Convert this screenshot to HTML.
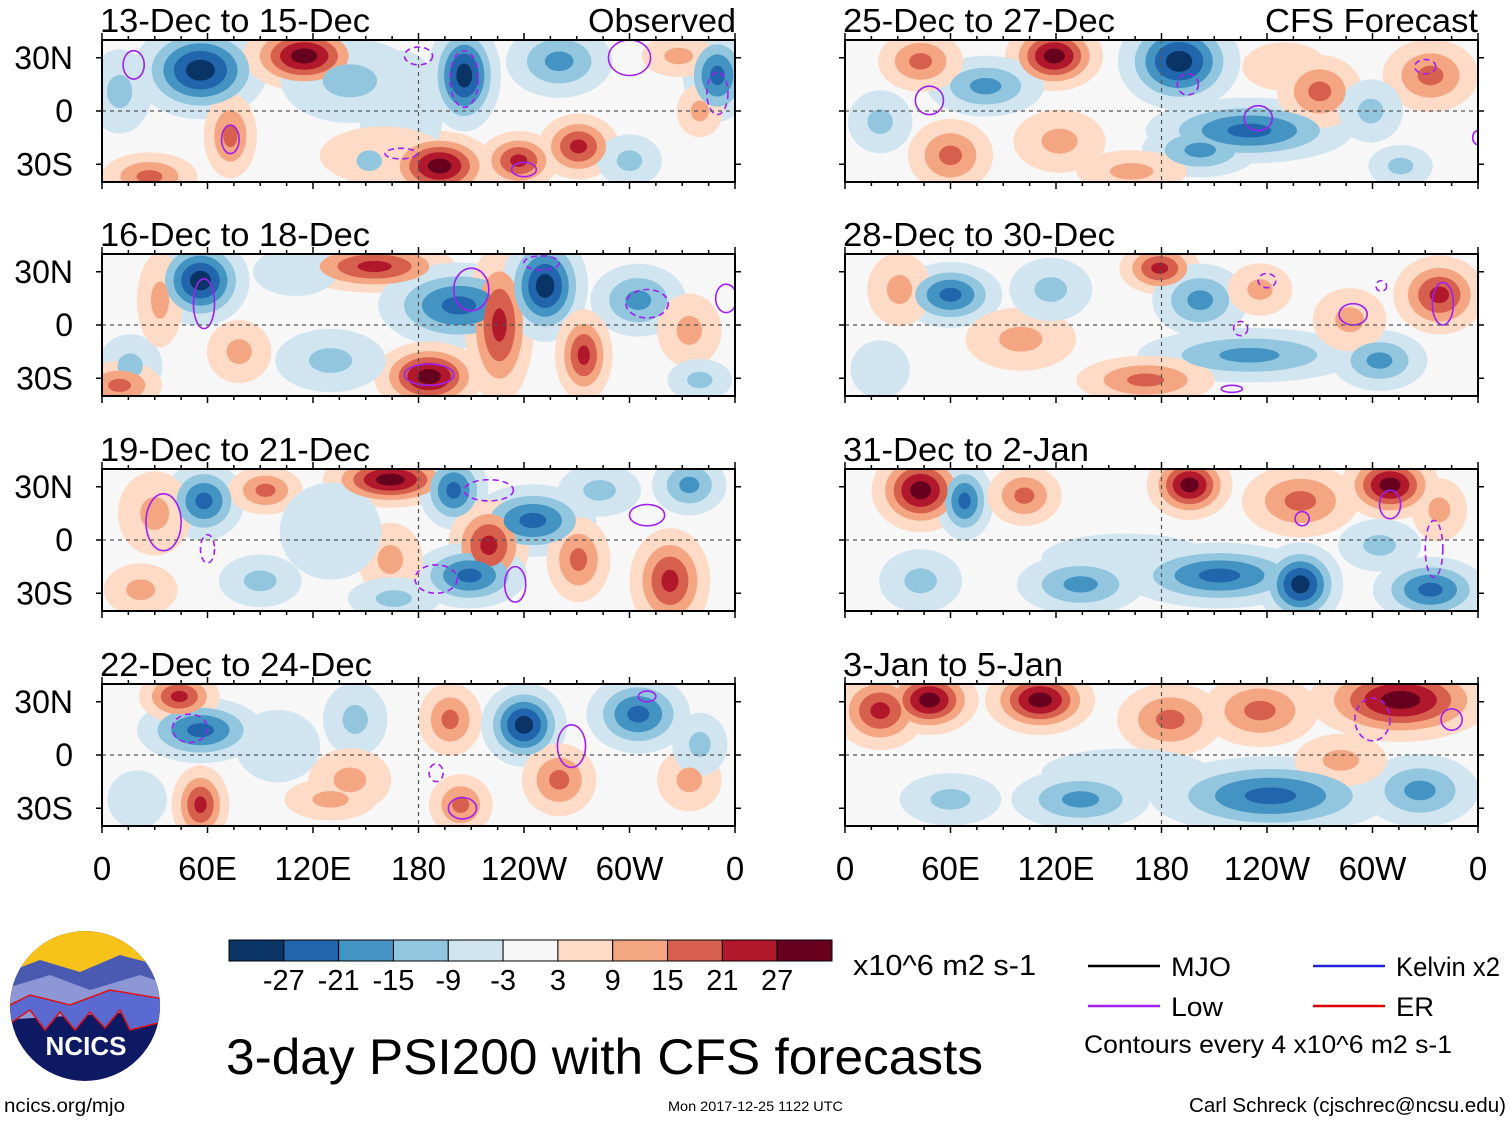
<!DOCTYPE html>
<html><head><meta charset="utf-8">
<style>
body{margin:0;background:#fff;width:1510px;height:1121px;overflow:hidden;font-family:"Liberation Sans",sans-serif}
svg{position:absolute;left:0;top:0}
</style></head>
<body>
<svg id="chart" width="1510" height="1121" font-family="Liberation Sans, sans-serif"></svg>
<script>
const levels=[3,9,15,21,27];
const posColors=['#fddbc7','#f4a582','#d6604d','#b2182b','#67001f'];
const negColors=['#d1e5f0','#92c5de','#4393c3','#2166ac','#0a3366'];
const cbColors=['#0a3366','#2166ac','#4393c3','#92c5de','#d1e5f0','#f7f7f7','#fddbc7','#f4a582','#d6604d','#b2182b','#67001f'];
const cbLabels=['-27','-21','-15','-9','-3','3','9','15','21','27'];
const xTickLabels=['0','60E','120E','180','120W','60W','0'];
const yTickLabels=['30N','0','30S'];
const yTickLats=[30,0,-30];
const panelTitles=['13-Dec to 15-Dec','16-Dec to 18-Dec','19-Dec to 21-Dec','22-Dec to 24-Dec','25-Dec to 27-Dec','28-Dec to 30-Dec','31-Dec to 2-Jan','3-Jan to 5-Jan'];
const titleWidths=[270,270,270,272,272,272,246,220];
// blobs: [lon, lat, amplitude, lonHalfWidth, latHalfWidth]
const blobs1=[[56,23,-30,22,14],[115,31,30,20,10],[206,20,-30,12,16],[260,28,-17,20,12],[192,-31,30,18,10],[237,-28,23,14,9],[271,-20,23,14,10],[10,11,-11,14,16],[73,-14,17,10,14],[350,20,-23,12,14],[141,17,-11,30,16],[340,0,11,10,10],[27,-37,17,18,8],[300,-28,-11,14,10],[328,31,11,16,8],[152,-28,-11,14,10],[170,0,-9,20,25],[160,-25,9,30,12]];
const blobs2=[[56,25,-30,16,13],[155,33,23,28,8],[203,11,-23,28,13],[226,0,23,12,24],[252,22,-30,14,16],[305,14,-17,18,12],[186,-29,30,18,10],[274,-17,23,10,14],[130,-20,-11,24,12],[78,-15,11,14,12],[16,-23,-11,14,12],[33,14,11,10,18],[334,-3,11,14,14],[10,-34,17,16,8],[340,-31,-11,14,8],[110,30,-9,20,10]];
const blobs3=[[164,34,30,22,8],[200,28,-23,12,12],[245,11,-23,22,11],[220,-3,23,14,14],[209,-20,-23,20,10],[58,22,-23,14,12],[93,28,17,14,8],[283,28,-11,18,10],[323,-23,23,14,16],[271,-11,17,12,14],[334,31,-17,14,10],[164,-11,11,14,14],[90,-23,-11,18,10],[22,-28,11,16,10],[166,-33,-11,20,8],[30,15,11,16,16],[130,5,-9,24,20]];
const blobs4=[[56,14,-23,22,10],[44,33,23,14,8],[56,-28,23,10,12],[144,20,-11,14,14],[198,20,17,12,12],[240,17,-30,14,12],[305,23,-23,18,12],[260,-14,17,14,12],[204,-28,17,12,10],[141,-14,11,18,12],[334,-14,11,14,12],[340,6,-11,12,12],[130,-25,11,20,8],[100,5,-9,20,15],[20,-25,-9,14,12]];
const blobs5=[[119,31,30,16,10],[190,28,-30,20,14],[80,14,-17,22,10],[43,28,17,16,10],[230,-11,-23,36,10],[202,-22,-17,22,9],[270,11,17,16,12],[333,20,17,18,12],[299,0,-11,14,12],[60,-25,17,16,12],[122,-17,11,20,12],[316,-31,-11,14,8],[20,-6,-11,14,12],[163,-34,11,24,8],[250,25,9,20,10]];
const blobs6=[[60,17,-23,18,10],[179,32,23,14,8],[338,17,23,16,12],[202,14,-17,18,12],[236,20,11,14,10],[230,-17,-17,42,9],[100,-8,11,24,12],[171,-31,17,26,8],[304,-20,-17,18,10],[287,3,11,16,12],[31,20,11,14,14],[117,20,-11,18,12],[20,-25,-9,14,12]];
const blobs7=[[43,28,30,16,12],[68,22,-23,10,12],[102,25,17,14,10],[196,31,30,14,10],[259,22,17,22,12],[310,31,30,16,10],[259,-25,-30,14,12],[213,-20,-23,34,10],[134,-25,-17,24,10],[333,-28,-23,20,10],[43,-23,-11,18,12],[338,17,11,12,12],[304,-3,-11,18,10],[160,-10,-9,40,10]];
const blobs8=[[111,31,30,18,10],[48,31,30,16,10],[316,31,30,30,12],[236,25,17,22,12],[185,20,17,20,12],[20,25,23,16,12],[242,-23,-23,42,12],[134,-25,-17,26,10],[327,-20,-17,22,12],[60,-25,-11,22,10],[282,-3,11,20,10],[160,-10,-9,40,10]];
const allBlobs=[blobs1,blobs2,blobs3,blobs4,blobs5,blobs6,blobs7,blobs8];
// purple "Low" contours: [lon, lat, lonRadius, latRadius, dashed(1/0)]
const lows1=[[18,26,6,8,0],[73,-16,5,8,0],[240,-33,7,4,0],[300,30,12,10,0],[180,31,8,5,1],[206,18,8,16,1],[350,10,6,12,1],[170,-24,9,3,1]];
const lows2=[[58,12,6,14,0],[210,20,10,12,0],[186,-28,14,6,0],[310,12,12,8,1],[355,15,6,8,0],[250,35,10,4,1]];
const lows3=[[35,10,10,16,0],[310,14,10,6,0],[235,-25,6,10,0],[190,-22,12,8,1],[60,-5,4,8,1],[220,28,14,6,1]];
const lows4=[[205,-30,8,6,0],[267,5,8,12,0],[310,33,5,3,0],[190,-10,4,5,1],[50,15,10,8,1]];
const lows5=[[48,6,8,8,0],[235,-4,8,7,0],[330,25,6,4,1],[195,15,6,6,1],[360,-15,3,4,0]];
const lows6=[[220,-36,6,2,0],[289,6,8,6,0],[340,12,6,12,0],[240,25,5,4,1],[225,-2,4,4,1],[305,22,3,3,1]];
const lows7=[[310,20,6,8,0],[260,12,4,4,0],[335,-5,5,16,1]];
const lows8=[[345,20,6,6,0],[300,20,10,12,1]];
const allLows=[lows1,lows2,lows3,lows4,lows5,lows6,lows7,lows8];

const NS='http://www.w3.org/2000/svg';
const svg=document.getElementById('chart');
function mk(tag,attrs,parent){const e=document.createElementNS(NS,tag);for(const k in attrs)e.setAttribute(k,attrs[k]);(parent||svg).appendChild(e);return e;}

const colX=[102,845], pW=633, rowY=[40,254,469,684], pH=142;
const defs=mk('defs',{});
for(let p=0;p<8;p++){
  const col=p<4?0:1,row=p%4;
  const x0=colX[col],y0=rowY[row];
  const xs=lon=>x0+lon/360*pW;
  const ys=lat=>y0+pH/2-lat/40*(pH/2);
  const clip=mk('clipPath',{id:'clip'+p},defs);
  mk('rect',{x:x0,y:y0,width:pW,height:pH},clip);
  const g=mk('g',{'clip-path':'url(#clip'+p+')'});
  
  
  mk('rect',{x:x0,y:y0,width:pW,height:pH,fill:'#f7f7f7'},g);
  const bl=allBlobs[p];
  for(let li=0;li<levels.length;li++){
    bl.forEach(b=>{
      const a=Math.abs(b[2]);
      if(a<=levels[li])return;
      const f=Math.sqrt(Math.log(a/levels[li]));
      const e=mk('ellipse',{cx:xs(b[0]),cy:ys(b[1]),rx:b[3]*f/360*pW*1.15,ry:b[4]*f/40*(pH/2)*1.3,fill:(b[2]>0?posColors:negColors)[li]},g);
      
      
    });
  }
  allLows[p].forEach(l=>{
    const e=mk('ellipse',{cx:xs(l[0]),cy:ys(l[1]),rx:l[2]/360*pW,ry:l[3]/40*(pH/2),fill:'none',stroke:'#a020f0','stroke-width':1.6,'stroke-dasharray':l[4]?'6,4':'none'},g);
    
    
  });
  mk('line',{x1:x0,x2:x0+pW,y1:ys(0),y2:ys(0),stroke:'#555','stroke-dasharray':'4,4','stroke-width':1.2},g);
  mk('line',{x1:xs(180),x2:xs(180),y1:y0,y2:y0+pH,stroke:'#555','stroke-dasharray':'4,4','stroke-width':1.2},g);
  const fr=mk('rect',{x:x0,y:y0,width:pW,height:pH,fill:'none',stroke:'#000','stroke-width':2});
  
  
  for(let lon=0;lon<=360;lon+=15){
    const major=lon%60===0, L=major?7:4;
    mk('line',{x1:xs(lon),x2:xs(lon),y1:y0,y2:y0-L,stroke:'#000','stroke-width':1.5});
    mk('line',{x1:xs(lon),x2:xs(lon),y1:y0+pH,y2:y0+pH+L,stroke:'#000','stroke-width':1.5});
  }
  yTickLats.forEach(lat=>{
    mk('line',{x1:x0,x2:x0-6,y1:ys(lat),y2:ys(lat),stroke:'#000','stroke-width':1.5});
    mk('line',{x1:x0+pW,x2:x0+pW+6,y1:ys(lat),y2:ys(lat),stroke:'#000','stroke-width':1.5});
  });
  const t=mk('text',{x:x0-2,y:y0-8,'font-size':33,textLength:titleWidths[p],lengthAdjust:'spacingAndGlyphs'});
  t.textContent=panelTitles[p];
  
  
  if(col===0) yTickLats.forEach((lat,i)=>{
    const tt=mk('text',{x:73,y:ys(lat)+11,'font-size':32,'text-anchor':'end'});
    tt.textContent=yTickLabels[i];
    
    
  });
  if(row===3) xTickLabels.forEach((s,i)=>{
    const tt=mk('text',{x:xs(i*60),y:880,'font-size':33,'text-anchor':'middle'});
    tt.textContent=s;
    
    
  });
}
[['Observed',736,148],['CFS Forecast',1478,213]].forEach(a=>{
  const t=mk('text',{x:a[1]-a[2],y:32,'font-size':33,textLength:a[2],lengthAdjust:'spacingAndGlyphs'});
  t.textContent=a[0];
  
  
});
// colorbar
const cbX=229,cbW=603/11;
cbColors.forEach((c,i)=>{
  const r=mk('rect',{x:cbX+i*cbW,y:940,width:cbW,height:21,fill:c,stroke:'#000','stroke-width':1});
  
  
});
cbLabels.forEach((s,i)=>{
  const t=mk('text',{x:cbX+(i+1)*cbW,y:990,'font-size':29,'text-anchor':'middle'});
  t.textContent=s;
  
  
});
function txt(s,x,y,fs,name,w){const t=mk('text',{x:x,y:y,'font-size':fs});if(w){t.setAttribute('textLength',w);t.setAttribute('lengthAdjust','spacingAndGlyphs');}t.textContent=s;return t;}
txt('x10^6 m2 s-1',853,975,29,'units-label',183);
txt('3-day PSI200 with CFS forecasts',226,1074,50,'main-title',757);
txt('ncics.org/mjo',4,1112,19,'url-label',121);
txt('Mon 2017-12-25 1122 UTC',668,1111,14,'timestamp',175);
txt('Carl Schreck (cjschrec@ncsu.edu)',1189,1112,20,'author',317);
txt('Contours every 4 x10^6 m2 s-1',1084,1053,25,'contour-note',368);
[['MJO',1088,966,'#000',60],['Low',1088,1006,'#a020f0',52],['Kelvin x2',1313,966,'#2222dd',104],['ER',1313,1006,'#dd0000',38]].forEach(l=>{
  const ln=mk('line',{x1:l[1],x2:l[1]+72,y1:l[2],y2:l[2],stroke:l[3],'stroke-width':2.5});
  
  
  txt(l[0],l[1]+83,l[2]+10,27,'legend-label',l[4]);
});
// logo
const lg=mk('g',{});


const lc=mk('clipPath',{id:'logoclip'},defs);
mk('ellipse',{cx:85,cy:1006,rx:75,ry:75},lc);
const lgi=mk('g',{'clip-path':'url(#logoclip)'},lg);
mk('rect',{x:0,y:920,width:170,height:170,fill:'#0d1a63'},lgi);
mk('rect',{x:0,y:920,width:170,height:60,fill:'#f7c21a'},lgi);
mk('path',{d:'M0,975 L40,960 L80,972 L120,955 L170,968 L170,1000 L0,1010Z',fill:'#4a5ab0'},lgi);
mk('path',{d:'M0,990 L50,975 L90,990 L140,975 L170,985 L170,1010 L0,1020Z',fill:'#8d97d6'},lgi);
mk('path',{d:'M0,1010 L30,995 L70,1005 L110,990 L170,1000 L170,1020 L130,1030 L120,1010 L105,1028 L90,1012 L75,1030 L60,1012 L45,1030 L30,1010 L0,1030Z',fill:'#5a6ad0',stroke:'#e01010','stroke-width':1.5},lgi);
const lt=mk('text',{x:86,y:1055,'font-size':26,'font-weight':'bold',fill:'#fff','text-anchor':'middle'},lg);
lt.textContent='NCICS';
</script>
</body></html>
